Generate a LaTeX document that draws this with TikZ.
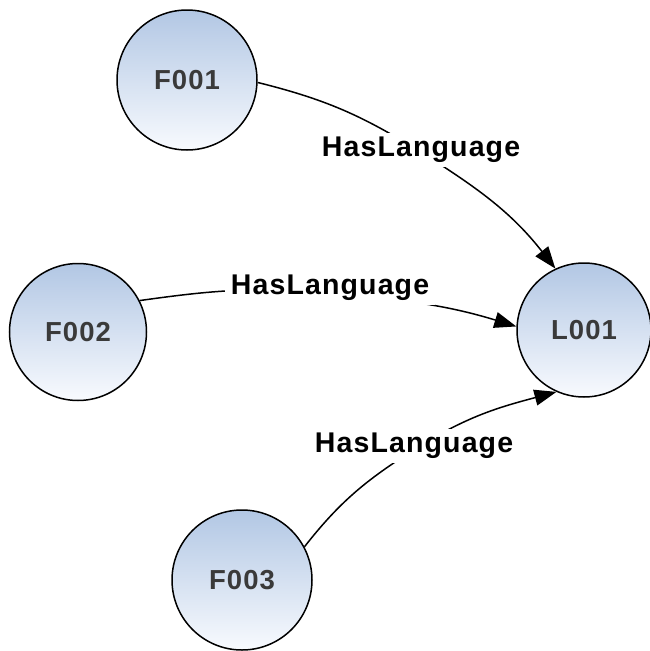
\documentclass[tikz,border=0pt]{standalone}
\usepackage{fontspec}
\setmainfont{Liberation Sans}
\newfontfamily\spacedfont[LetterSpace=4]{Liberation Sans}
\usetikzlibrary{arrows.meta}
\definecolor{nodetop}{RGB}{178,199,228}
\definecolor{nodebot}{RGB}{248,250,254}
\definecolor{nodetext}{RGB}{58,58,58}
\tikzset{
  entity/.style={circle, draw=black, line width=1.5pt, top color=nodetop, bottom color=nodebot,
    font=\spacedfont\fontsize{27.5}{30}\selectfont\bfseries, text=nodetext, inner sep=0pt},
  rel/.style={fill=white, font=\spacedfont\fontsize{28.5}{30}\selectfont\bfseries, text=black, inner xsep=6pt, inner ysep=4pt},
  conn/.style={line width=1.5pt, draw=black},
  arr/.style={conn, -{Triangle[length=22pt,width=16pt]}}
}
\begin{document}
\begin{tikzpicture}[x=1pt,y=-1pt]
\useasboundingbox (0,0) rectangle (649,651);
\node[entity, minimum size=140pt] (F001) at (187,80) {F001};
\node[entity, minimum size=137pt] (F002) at (78,332) {F002};
\node[entity, minimum size=140pt] (F003) at (242,580) {F003};
\node[entity, minimum size=134pt] (L001) at (584,330) {L001};
\coordinate (c1) at (419,151);
\coordinate (c2) at (327,293);
\coordinate (c3) at (420,446);
\draw[arr] (F001.-2) to[out=-14,in=148] (c1) to[out=-32,in=128] (L001.115);
\draw[arr] (F002.27) to[out=8,in=175] (c2) to[out=-5,in=163] (L001.177);
\draw[arr] (F003.28) to[out=52,in=212] (c3) to[out=32,in=195] (L001.-114);
\node[rel] (r1) at (421,150) {HasLanguage};
\node[rel] (r2) at (330,288) {HasLanguage};
\node[rel] (r3) at (414,446) {HasLanguage};
\end{tikzpicture}
\end{document}
